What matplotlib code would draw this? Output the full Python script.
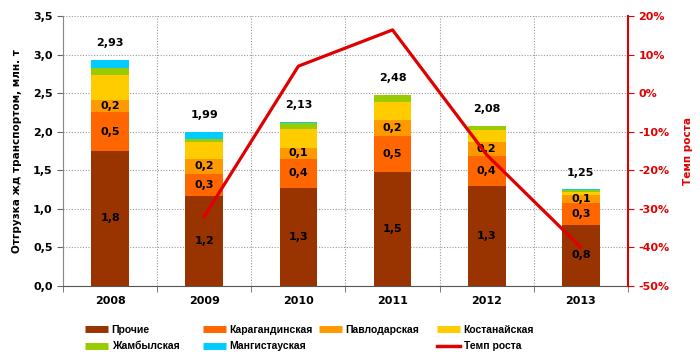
import numpy as np
import matplotlib
matplotlib.use("Agg")
import matplotlib.pyplot as plt
from matplotlib.lines import Line2D

years = ["2008", "2009", "2010", "2011", "2012", "2013"]
prochie = [1.75, 1.16, 1.27, 1.48, 1.29, 0.79]
karaganda = [0.50, 0.29, 0.38, 0.46, 0.40, 0.29]
pavlodar = [0.16, 0.20, 0.14, 0.21, 0.17, 0.10]
kostanay = [0.33, 0.21, 0.25, 0.24, 0.16, 0.04]
zhambyl = [0.09, 0.05, 0.07, 0.08, 0.05, 0.02]
mangistau = [0.10, 0.08, 0.02, 0.01, 0.01, 0.01]
growth = [np.nan, -32.0, 7.0, 16.4, -16.0, -40.0]

series = [
    ("Прочие", prochie, "#993300"),
    ("Карагандинская", karaganda, "#FF6600"),
    ("Павлодарская", pavlodar, "#FF9900"),
    ("Костанайская", kostanay, "#FFCC00"),
    ("Жамбылская", zhambyl, "#99CC00"),
    ("Мангистауская", mangistau, "#00CCFF"),
]
labelled = {"Прочие", "Карагандинская", "Павлодарская"}
red = "#E00000"

def fmt(v, nd=1):
    return f"{round(v + 1e-9, nd):.{nd}f}".replace(".", ",")

plt.rcParams["font.family"] = "DejaVu Sans"
plt.rcParams["font.weight"] = "bold"

fig = plt.figure(figsize=(7.0, 3.56), dpi=100)
ax = fig.add_axes([0.09, 0.197, 0.807, 0.758])
x = np.arange(len(years))

bottom = np.zeros(len(years))
for name, vals, col in series:
    vals = np.array(vals)
    ax.bar(x, vals, 0.4, bottom=bottom, color=col, zorder=2)
    if name in labelled:
        for xi, b, v in zip(x, bottom, vals):
            ax.text(xi, b + v / 2, fmt(v), ha="center", va="center",
                    fontsize=8, fontweight="bold", zorder=3)
    bottom += vals

for xi, t in zip(x, bottom):
    ax.text(xi, t + 0.22, fmt(t, 2), ha="center", va="center",
            fontsize=8, fontweight="bold")

ax.set_xlim(-0.5, len(years) - 0.5)
ax.set_ylim(0, 3.5)
ax.set_yticks(np.arange(0, 3.51, 0.5))
ax.set_yticklabels([fmt(v) for v in np.arange(0, 3.51, 0.5)])
ax.set_xticks(x)
ax.set_xticklabels(years)
ax.set_xticks(np.arange(-0.5, len(years)), minor=True)
ax.grid(True, axis="y", color="#999999", ls=(0, (1, 1.5)), lw=0.8, zorder=0)
ax.grid(True, axis="x", which="minor", color="#999999", ls=(0, (1, 1.5)), lw=0.8, zorder=0)
ax.tick_params(axis="x", which="major", length=0, labelsize=8, pad=7)
ax.tick_params(axis="x", which="minor", length=4, color="#666666")
ax.tick_params(axis="y", labelsize=8, length=4, color="#666666")
ax.spines["top"].set_visible(False)
ax.spines["right"].set_visible(False)
ax.spines["left"].set_color("#888888")
ax.spines["bottom"].set_color("#555555")
ax.set_ylabel("Отгрузка жд транспортом, млн. т", fontsize=7.5, fontweight="bold", labelpad=8)

ax2 = ax.twinx()
ax2.plot(x, growth, color=red, lw=2.3, zorder=4)
ax2.set_ylim(-50, 20)
ax2.set_yticks(np.arange(-50, 21, 10))
ax2.set_yticklabels([f"{v}%" for v in range(-50, 21, 10)])
ax2.tick_params(axis="y", colors=red, labelsize=8, length=4)
ax2.spines["right"].set_color(red)
ax2.spines["right"].set_linewidth(1.5)
for s in ["top", "left", "bottom"]:
    ax2.spines[s].set_visible(False)
ax2.set_ylabel("Темп роста", color=red, fontsize=7.5, fontweight="bold", labelpad=10)

# legend: four one-column blocks placed like the original
h = {name: Line2D([], [], color=col, lw=5, solid_capstyle="butt") for name, _, col in series}
columns = [
    ([h["Прочие"], h["Жамбылская"]], ["Прочие", "Жамбылская"], 85),
    ([h["Карагандинская"], h["Мангистауская"]], ["Карагандинская", "Мангистауская"], 203),
    ([h["Павлодарская"]], ["Павлодарская"], 319),
    ([h["Костанайская"], Line2D([], [], color=red, lw=2.5)], ["Костанайская", "Темп роста"], 437),
]
for hs, ls, px in columns:
    fig.legend(hs, ls, loc="upper left", bbox_to_anchor=(px / 700, 1 - 325 / 356),
               frameon=False, prop={"family": "Liberation Sans", "weight": "bold", "size": 7.5},
               handlelength=2.2, handletextpad=0.35,
               labelspacing=0.6, borderpad=0, borderaxespad=0)

fig.savefig("out.png", dpi=100)
